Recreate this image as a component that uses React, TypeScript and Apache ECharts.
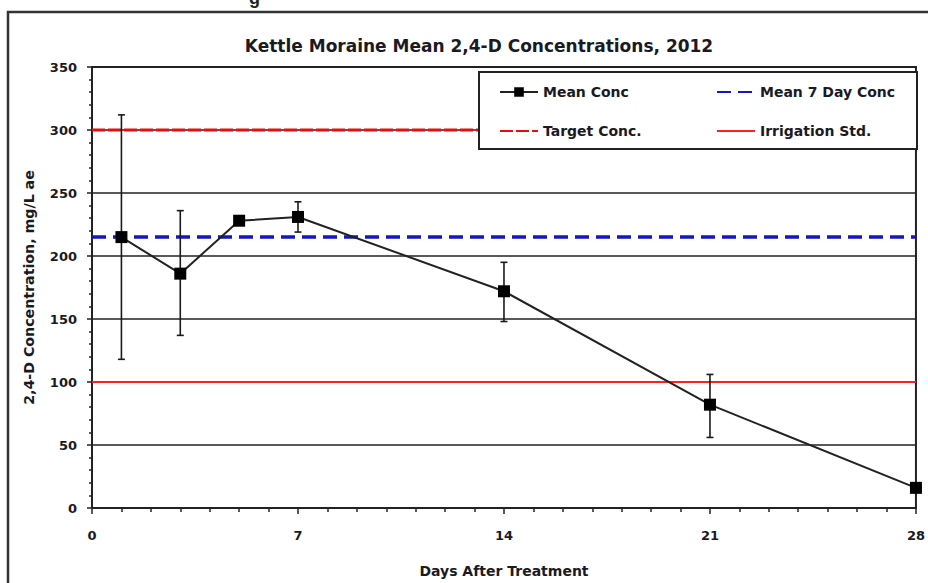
import React, { useEffect, useRef } from "react";
import * as echarts from "echarts";

const days = [1, 3, 5, 7, 14, 21, 28];
const meanConc = [215, 186, 228, 231, 172, 82, 16];
const errUpper = [312, 236, 231, 243, 195, 106, 16];
const errLower = [118, 137, 225, 219, 148, 56, 16];
const mean7Day = 215;
const targetConc = 300;
const irrigationStd = 100;
const xRange = [0, 28];
const titleText = "Kettle Moraine Mean 2,4-D Concentrations, 2012";
const xName = "Days After Treatment";
const yName = "2,4-D Concentration, mg/L ae";

const FONT = "'DejaVu Sans', 'Liberation Sans', Arial, sans-serif";

export default function App() {
  const ref = useRef<HTMLDivElement>(null);
  useEffect(() => {
    if (!ref.current) return;
    const chart = echarts.init(ref.current, null, { renderer: "svg" });
    const txt = { fontFamily: FONT, fontWeight: "bold", color: "#1a1a22" };
    const hiddenSym = { itemStyle: { opacity: 0, borderWidth: 0 } };
    const legendBase = {
      orient: "vertical",
      top: 80,
      itemWidth: 38,
      itemHeight: 12,
      itemGap: 25,
      textStyle: { ...txt, fontSize: 14 },
      z: 10,
    };
    const option: any = {
      animation: false,
      backgroundColor: "#ffffff",
      title: {
        text: titleText,
        left: 474,
        textAlign: "center",
        top: 32,
        textStyle: { ...txt, fontSize: 17 },
      },
      grid: {
        left: 92,
        right: 8,
        top: 67,
        bottom: 73,
        show: true,
        borderColor: "#222",
        borderWidth: 2,
      },
      legend: [
        {
          ...legendBase,
          left: 494,
          data: [{ name: "Mean Conc" }, { name: "Target Conc.", ...hiddenSym }],
        },
        {
          ...legendBase,
          left: 711,
          data: [
            { name: "Mean 7 Day Conc", ...hiddenSym },
            { name: "Irrigation Std.", ...hiddenSym },
          ],
        },
      ],
      graphic: [
        {
          type: "rect",
          shape: { x: 8, y: 12, width: 1000, height: 1000 },
          style: { fill: "none", stroke: "#333", lineWidth: 2.5 },
          z: 0,
          silent: true,
        },
        {
          type: "rect",
          shape: { x: 479, y: 72, width: 438, height: 77 },
          style: { fill: "#fff", stroke: "#222", lineWidth: 2 },
          z: 8,
          silent: true,
        },
        {
          type: "text",
          x: 249,
          y: 7,
          style: {
            text: "g",
            font: "bold 18px 'Liberation Sans', Arial, sans-serif",
            fill: "#222",
            verticalAlign: "bottom",
          },
          z: 1,
        },
      ],
      xAxis: {
        type: "value",
        min: xRange[0],
        max: xRange[1],
        interval: 7,
        name: xName,
        nameLocation: "middle",
        nameGap: 56,
        nameTextStyle: { ...txt, fontSize: 14 },
        axisLine: { show: true, lineStyle: { color: "#222", width: 2 } },
        axisTick: { show: true, length: 6, lineStyle: { color: "#222", width: 1.5 } },
        minorTick: { show: true, splitNumber: 7, length: 4, lineStyle: { color: "#222", width: 1.5 } },
        axisLabel: { ...txt, fontSize: 13, margin: 21 },
        splitLine: { show: false },
      },
      yAxis: {
        type: "value",
        min: 0,
        max: 350,
        interval: 50,
        name: yName,
        nameLocation: "middle",
        nameGap: 56,
        nameRotate: 90,
        nameTextStyle: { ...txt, fontSize: 14.2 },
        axisLine: { show: true, lineStyle: { color: "#222", width: 2 } },
        axisTick: { show: true, length: 5, lineStyle: { color: "#222", width: 1.5 } },
        minorTick: { show: true, splitNumber: 5, length: 3, lineStyle: { color: "#222", width: 1.5 } },
        axisLabel: { ...txt, fontSize: 13, margin: 15 },
        splitLine: { show: true, lineStyle: { color: "#222", width: 1.5 } },
      },
      series: [
        {
          name: "Irrigation Std.",
          type: "line",
          data: [[xRange[0], irrigationStd], [xRange[1], irrigationStd]],
          symbol: "none",
          lineStyle: { color: "#ff2020", width: 2 },
          itemStyle: { color: "#ff2020" },
          z: 3,
        },
        {
          name: "Target Conc.",
          type: "line",
          data: [[xRange[0], targetConc], [xRange[1], targetConc]],
          symbol: "none",
          lineStyle: { color: "#e01010", width: 3, type: [13, 3] },
          itemStyle: { color: "#e01010" },
          z: 3,
        },
        {
          name: "Mean 7 Day Conc",
          type: "line",
          data: [[xRange[0], mean7Day], [xRange[1], mean7Day]],
          symbol: "none",
          lineStyle: { color: "#1414c8", width: 3.5, type: [14, 7] },
          itemStyle: { color: "#1414c8" },
          z: 3,
        },
        {
          name: "Error",
          type: "custom",
          data: days.map((d, i) => [d, errUpper[i], errLower[i]]),
          encode: { x: 0, y: [1, 2] },
          z: 4,
          renderItem: (params: any, api: any) => {
            const x = api.value(0);
            const hi = api.coord([x, api.value(1)]);
            const lo = api.coord([x, api.value(2)]);
            const w = 3.5;
            const st = { stroke: "#1a1a1a", lineWidth: 1.6 };
            return {
              type: "group",
              children: [
                { type: "line", shape: { x1: hi[0], y1: hi[1], x2: lo[0], y2: lo[1] }, style: st },
                { type: "line", shape: { x1: hi[0] - w, y1: hi[1], x2: hi[0] + w, y2: hi[1] }, style: st },
                { type: "line", shape: { x1: lo[0] - w, y1: lo[1], x2: lo[0] + w, y2: lo[1] }, style: st },
              ],
            };
          },
        },
        {
          name: "Mean Conc",
          type: "line",
          data: days.map((d, i) => [d, meanConc[i]]),
          symbol: "rect",
          symbolSize: 12,
          lineStyle: { color: "#222", width: 2 },
          itemStyle: { color: "#000" },
          clip: false,
          z: 5,
        },
      ],
    };
    chart.setOption(option);
    return () => chart.dispose();
  }, []);
  return (
    <div
      ref={ref}
      style={{ position: "fixed", left: 0, top: 0, width: 928, height: 583 }}
    />
  );
}
